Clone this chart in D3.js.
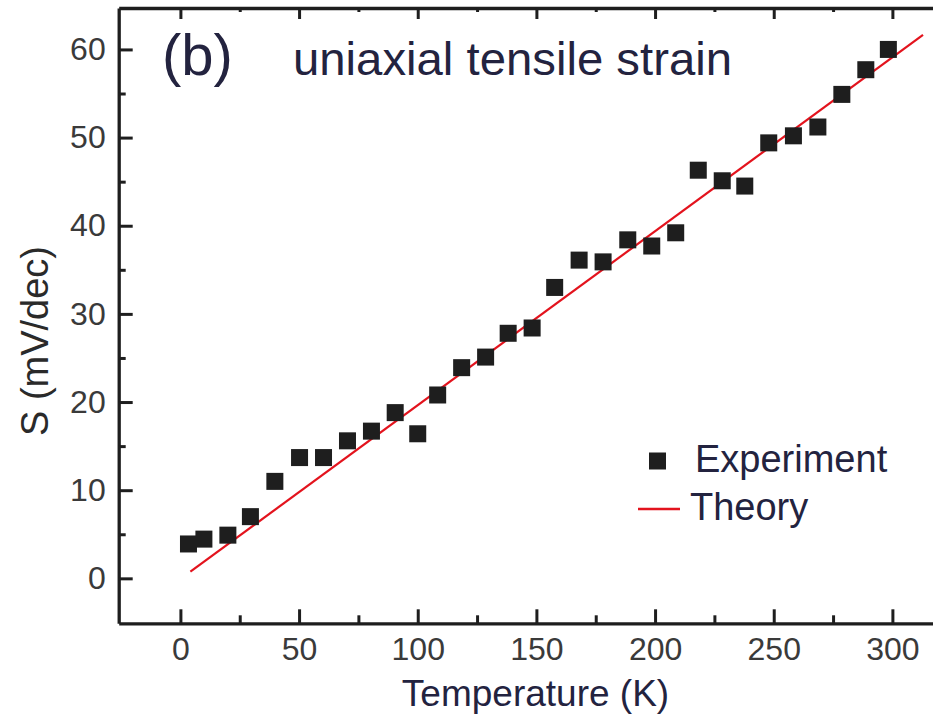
<!DOCTYPE html>
<html>
<head>
<meta charset="utf-8">
<script src="https://cdn.jsdelivr.net/npm/d3@7/dist/d3.min.js"></script>
<style>
  html, body { margin: 0; padding: 0; background: #ffffff; }
  svg { display: block; }
  text { font-family: "Liberation Sans", Arial, sans-serif; }
</style>
</head>
<body>
<svg id="chart" width="933" height="718"></svg>
<script>
// ---- data ----
const temperatures = [3.4, 9.9, 20, 29.5, 39.8, 50.2, 60.3, 70.4, 80.5, 90.5, 100, 108.4, 118.5, 128.6, 138.1, 148.2, 157.7, 168, 178.1, 188.5, 198.6, 208.7, 218.2, 228.3, 237.8, 247.9, 258.3, 268.6, 278.7, 288.8, 298.3];
const swingValues  = [3.9, 4.45, 4.9, 7.0, 11.0, 13.7, 13.7, 15.6, 16.7, 18.8, 16.4, 20.8, 23.9, 25.1, 27.8, 28.4, 33.0, 36.1, 35.9, 38.4, 37.7, 39.2, 46.3, 45.1, 44.5, 49.4, 50.2, 51.2, 54.9, 57.7, 60.0];
const theoryT = [4.2, 312.9];
const theoryS = [0.75, 61.65];
const xMajorTicks = [0, 50, 100, 150, 200, 250, 300];
const xMinorTicks = [25, 75, 125, 175, 225, 275];
const yMajorTicks = [0, 10, 20, 30, 40, 50, 60];
const yMinorTicks = [5, 15, 25, 35, 45, 55];
const legendLabels = ["Experiment", "Theory"];
const panelLabel = "(b)";
const titleText = "uniaxial tensile strain";
const xTitle = "Temperature (K)";
const yTitle = "S (mV/dec)";

(function () {
// ---- layout ----
const svg = d3.select("#chart");
const plotLeft = 118.7, plotTop = 8, plotBottom = 623.3;
const x = d3.scaleLinear().domain([-26, 320]).range([plotLeft, plotLeft + 346 * 2.3733]);
const y = d3.scaleLinear().domain([-5.1, 64.7]).range([plotBottom, plotTop]);
const axisColor = "#1e1e1e";
const tickLabelColor = "#3a3a3a";

// bottom axis
const gB = svg.append("g").attr("transform", `translate(0,${plotBottom})`);
gB.call(d3.axisBottom(x).tickValues(xMajorTicks).tickSizeInner(-14).tickSizeOuter(0).tickPadding(14).tickFormat(d3.format("d")));
const gBm = svg.append("g").attr("transform", `translate(0,${plotBottom})`);
gBm.call(d3.axisBottom(x).tickValues(xMinorTicks).tickSizeInner(-8).tickSizeOuter(0).tickFormat(""));
gBm.select(".domain").remove();

// left axis
const gL = svg.append("g").attr("transform", `translate(${plotLeft},0)`);
gL.call(d3.axisLeft(y).tickValues(yMajorTicks).tickSizeInner(-14).tickSizeOuter(0).tickPadding(13).tickFormat(d3.format("d")));
const gLm = svg.append("g").attr("transform", `translate(${plotLeft},0)`);
gLm.call(d3.axisLeft(y).tickValues(yMinorTicks).tickSizeInner(-7).tickSizeOuter(0).tickFormat(""));
gLm.select(".domain").remove();

// top axis
const gT = svg.append("g").attr("transform", `translate(0,${plotTop})`);
gT.call(d3.axisTop(x).tickValues(xMajorTicks).tickSizeInner(-11).tickSizeOuter(0).tickFormat(""));
const gTm = svg.append("g").attr("transform", `translate(0,${plotTop})`);
gTm.call(d3.axisTop(x).tickValues(xMinorTicks).tickSizeInner(-4).tickSizeOuter(0).tickFormat(""));
gTm.select(".domain").remove();

svg.selectAll(".domain").attr("stroke", axisColor).attr("stroke-width", 3.3);
svg.selectAll(".tick line").attr("stroke", axisColor).attr("stroke-width", 3);
svg.selectAll(".tick text")
  .attr("fill", tickLabelColor)
  .style("font-family", '"Liberation Sans", Arial, sans-serif')
  .style("font-size", "32px");

// theory line
const lineData = theoryT.map((t, i) => [t, theoryS[i]]);
svg.append("path")
  .datum(lineData)
  .attr("fill", "none")
  .attr("stroke", "#e3131d")
  .attr("stroke-width", 2.2)
  .attr("d", d3.line().x(d => x(d[0])).y(d => y(d[1])));

// experiment squares
const sq = 17;
svg.append("g").selectAll("rect")
  .data(temperatures.map((t, i) => [t, swingValues[i]]))
  .join("rect")
  .attr("x", d => x(d[0]) - sq / 2)
  .attr("y", d => y(d[1]) - sq / 2)
  .attr("width", sq)
  .attr("height", sq)
  .attr("fill", "#1e1e1e");

// titles
const textColor = "#23233f";
svg.append("text")
  .attr("x", 162).attr("y", 75)
  .attr("fill", textColor)
  .style("font-size", "58px")
  .text(panelLabel);
svg.append("text")
  .attr("x", 293).attr("y", 75)
  .attr("fill", textColor)
  .style("font-size", "47px")
  .attr("textLength", 439)
  .attr("lengthAdjust", "spacingAndGlyphs")
  .text(titleText);

svg.append("text")
  .attr("x", 535.5).attr("y", 706)
  .attr("text-anchor", "middle")
  .attr("fill", textColor)
  .style("font-size", "37px")
  .text(xTitle);

svg.append("text")
  .attr("transform", "translate(48,341) rotate(-90)")
  .attr("text-anchor", "middle")
  .attr("fill", "#2a2a2a")
  .style("font-size", "38px")
  .text(yTitle);

// legend
const lg = svg.append("g");
lg.append("rect")
  .attr("x", 657.5 - sq / 2).attr("y", 461 - sq / 2)
  .attr("width", sq).attr("height", sq)
  .attr("fill", "#1e1e1e");
lg.append("line")
  .attr("x1", 638).attr("x2", 680).attr("y1", 509).attr("y2", 509)
  .attr("stroke", "#e3131d").attr("stroke-width", 2.4);
lg.append("text")
  .attr("x", 695).attr("y", 472)
  .attr("fill", textColor)
  .style("font-size", "38px")
  .text(legendLabels[0]);
lg.append("text")
  .attr("x", 690).attr("y", 520)
  .attr("fill", textColor)
  .style("font-size", "38px")
  .text(legendLabels[1]);
})();
</script>
</body>
</html>
